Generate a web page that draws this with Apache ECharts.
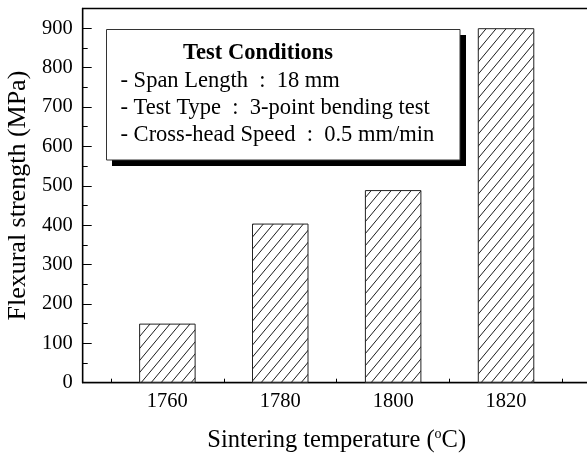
<!DOCTYPE html>
<html>
<head>
<meta charset="utf-8">
<script src="https://cdn.jsdelivr.net/npm/echarts@6/dist/echarts.min.js"></script>
<style>
  html, body { margin: 0; padding: 0; background: #fff; }
  #chart { width: 587px; height: 458px; }
</style>
</head>
<body>
<div id="chart"></div>
<script>
// 数据
var temps = [1760, 1780, 1800, 1820];
var strength = [150, 404, 489, 900];
var yTicks = [0, 100, 200, 300, 400, 500, 600, 700, 800, 900];
var xMinorTicks = [1750, 1770, 1790, 1810, 1830];
var boxLines = [
    '- Span Length  :  18 mm',
    '- Test Type  :  3-point bending test',
    '- Cross-head Speed  :  0.5 mm/min'
];

var serif = '"Liberation Serif", "Times New Roman", serif';

// 斜线填充
function hatch() {
    var c = document.createElement('canvas');
    c.width = 10;
    c.height = 12;
    var ctx = c.getContext('2d');
    ctx.fillStyle = '#fff';
    ctx.fillRect(0, 0, 10, 12);
    ctx.strokeStyle = '#000';
    ctx.lineWidth = 0.9;
    for (var k = -1; k <= 1; k++) {
        ctx.beginPath();
        ctx.moveTo(k * 10, 12);
        ctx.lineTo(k * 10 + 10, 0);
        ctx.stroke();
    }
    return c;
}

var barData = [];
for (var i = 0; i < temps.length; i++) {
    barData.push([temps[i], strength[i]]);
}

var chart = echarts.init(document.getElementById('chart'));
var option = {
    animation: false,
    backgroundColor: '#fff',
    grid: {
        left: 82.7, top: 8.5, width: 508, height: 374.2,
        outerBoundsMode: 'none',
        containLabel: false,
        show: true, borderColor: '#000', borderWidth: 1.3,
        backgroundColor: 'transparent'
    },
    xAxis: {
        type: 'value',
        min: 1745, max: 1835,
        name: '{n|Sintering temperature (}{s|o}{n|C)}',
        nameLocation: 'middle',
        nameGap: 45,
        nameTextStyle: {
            rich: {
                n: { fontFamily: serif, fontSize: 24.5, color: '#000' },
                s: { fontFamily: serif, fontSize: 14, color: '#000', padding: [0, 0, 12, 0] }
            }
        },
        axisLine: { show: true, onZero: false, lineStyle: { color: '#000', width: 1.3 } },
        axisTick: { show: true, inside: true, length: 4, customValues: xMinorTicks, lineStyle: { color: '#000' } },
        axisLabel: {
            customValues: temps,
            margin: 8,
            fontFamily: serif, fontSize: 20.5, color: '#000',
            formatter: function (v) { return String(v); }
        },
        splitLine: { show: false }
    },
    yAxis: {
        type: 'value',
        min: 0, max: 950, interval: 100,
        name: 'Flexural strength (MPa)',
        nameLocation: 'middle',
        nameGap: 50,
        nameTextStyle: { fontFamily: serif, fontSize: 26, color: '#000' },
        axisLine: { show: true, lineStyle: { color: '#000', width: 1.3 } },
        axisTick: { show: true, inside: true, length: 9, lineStyle: { color: '#000' } },
        minorTick: { show: true, splitNumber: 2, length: 5, lineStyle: { color: '#000' } },
        axisLabel: {
            customValues: yTicks,
            margin: 10,
            fontFamily: serif, fontSize: 20.5, color: '#000'
        },
        splitLine: { show: false }
    },
    series: [{
        type: 'bar',
        data: barData,
        barWidth: 56.5,
        itemStyle: {
            color: { image: hatch(), repeat: 'repeat' },
            borderColor: '#222',
            borderWidth: 1
        }
    }],
    graphic: [
        { type: 'rect', shape: { x: 112, y: 35, width: 354, height: 131 }, style: { fill: '#000' }, z: 10 },
        { type: 'rect', shape: { x: 106.5, y: 29.5, width: 353.5, height: 130.5 },
          style: { fill: '#fff', stroke: '#333', lineWidth: 1 }, z: 11 },
        { type: 'text', x: 258, y: 53, z: 12,
          style: { text: 'Test Conditions', fontFamily: serif, fontSize: 22.5, fontWeight: 'bold',
                   fill: '#000', align: 'center', verticalAlign: 'middle' } },
        { type: 'text', x: 120.5, y: 81, z: 12,
          style: { text: boxLines[0], fontFamily: serif, fontSize: 22.5, fill: '#000', verticalAlign: 'middle' } },
        { type: 'text', x: 120.5, y: 108, z: 12,
          style: { text: boxLines[1], fontFamily: serif, fontSize: 22.5, fill: '#000', verticalAlign: 'middle' } },
        { type: 'text', x: 120.5, y: 135, z: 12,
          style: { text: boxLines[2], fontFamily: serif, fontSize: 22.5, fill: '#000', verticalAlign: 'middle' } }
    ]
};
chart.setOption(option);
</script>
</body>
</html>
